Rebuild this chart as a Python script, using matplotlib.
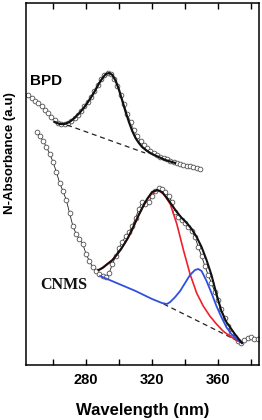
import matplotlib
matplotlib.use("Agg")
import matplotlib.pyplot as plt

# ---- data (y in arbitrary absorbance units) ----
bpd_x = [245, 247, 249, 251, 253, 255, 257, 259, 261, 263, 265, 267, 269, 271, 273,
         275, 277, 279, 281, 283, 285, 287, 289, 291, 293, 295, 297, 299, 301, 303,
         305, 307, 309, 311, 313, 315, 317, 319, 321, 323, 325, 327, 329, 331, 333,
         335, 337, 339, 341, 343, 345, 347, 349]
bpd_y = [2.69, 2.66, 2.63, 2.61, 2.58, 2.54, 2.51, 2.47, 2.44, 2.41, 2.40, 2.40, 2.41,
         2.43, 2.46, 2.49, 2.53, 2.58, 2.62, 2.67, 2.73, 2.79, 2.85, 2.89, 2.91, 2.90,
         2.85, 2.78, 2.69, 2.60, 2.50, 2.42, 2.34, 2.28, 2.23, 2.19, 2.16, 2.13, 2.11,
         2.09, 2.07, 2.06, 2.05, 2.03, 2.02, 2.01, 2.00, 1.99, 1.98, 1.98, 1.97, 1.96, 1.95]

bpd_fit_x = [261, 264, 267, 270, 273, 276, 279, 282, 285, 288, 290, 292, 294, 296, 298,
             300, 302, 304, 306, 308, 310, 312, 314, 317, 320, 324, 328, 332, 334]
bpd_fit_y = [2.42, 2.40, 2.40, 2.42, 2.46, 2.51, 2.57, 2.64, 2.72, 2.81, 2.86, 2.90, 2.91,
             2.89, 2.83, 2.74, 2.63, 2.52, 2.42, 2.33, 2.26, 2.21, 2.17, 2.13, 2.10, 2.07,
             2.04, 2.02, 2.01]

bpd_base_x = [268.5, 315.8]
bpd_base_y = [2.39, 2.11]

cnms_x = [250, 252, 254, 256, 258, 260, 262, 264, 266, 268, 270, 272, 274, 276, 278,
          280, 282, 284, 286, 288, 290, 292, 294, 296, 298, 300, 302, 304, 306, 308,
          310, 312, 314, 316, 318, 320, 322, 324, 326, 328, 330, 332, 334, 336, 338,
          340, 342, 344, 346, 348, 350, 352, 354, 356, 358, 360, 362, 364, 366, 368,
          370, 372, 374, 376, 378, 380, 382, 384]
cnms_y = [2.32, 2.28, 2.23, 2.17, 2.10, 2.02, 1.92, 1.81, 1.73, 1.64, 1.51, 1.38, 1.30,
          1.25, 1.20, 1.10, 1.03, 0.97, 0.93, 0.90, 0.88, 0.87, 0.91, 1.00, 1.08, 1.16,
          1.22, 1.28, 1.32, 1.38, 1.46, 1.55, 1.62, 1.60, 1.62, 1.68, 1.73, 1.76, 1.75,
          1.72, 1.68, 1.62, 1.52, 1.47, 1.44, 1.41, 1.37, 1.33, 1.27, 1.17, 1.08, 0.98,
          0.89, 0.81, 0.72, 0.64, 0.55, 0.46, 0.38, 0.31, 0.27, 0.23, 0.21, 0.24, 0.26,
          0.27, 0.25, 0.25]

cnms_fit_x = [287.5, 290, 293, 296, 299, 302, 305, 308, 311, 314, 317, 320, 323, 326,
              329, 332, 335, 338, 341, 344, 347, 350, 353, 356, 359, 362, 365, 368, 371, 374.5]
cnms_fit_y = [0.94, 0.96, 1.00, 1.04, 1.10, 1.17, 1.25, 1.35, 1.46, 1.56, 1.65, 1.72,
              1.74, 1.72, 1.66, 1.59, 1.52, 1.46, 1.41, 1.35, 1.27, 1.17, 1.04, 0.89,
              0.70, 0.53, 0.42, 0.35, 0.28, 0.21]

peak1_x = [288, 292, 296, 300, 304, 308, 312, 316, 320, 323.5, 327, 331, 335, 339, 343,
           347, 351, 355, 359, 363, 367, 371, 374.5]
peak1_y = [0.94, 0.99, 1.04, 1.12, 1.22, 1.34, 1.49, 1.62, 1.71, 1.74, 1.70, 1.60, 1.40,
           1.14, 0.90, 0.71, 0.58, 0.48, 0.40, 0.33, 0.28, 0.24, 0.21]

peak2_x = [288.5, 300, 310, 320, 326, 329, 331, 334, 337, 340, 343, 346, 348, 350, 353,
           356, 359, 362, 365, 368, 371, 374.5]
peak2_y = [0.88, 0.80, 0.73, 0.65, 0.61, 0.60, 0.62, 0.67, 0.73, 0.81, 0.89, 0.94, 0.95,
           0.93, 0.83, 0.71, 0.58, 0.47, 0.37, 0.30, 0.25, 0.21]

cnms_base_x = [327.0, 374.5]
cnms_base_y = [0.60, 0.21]

major_ticks = [280, 320, 360]
minor_ticks = [260, 300, 340, 380]

# ---- figure ----
fig = plt.figure(figsize=(2.62, 4.20), dpi=100)
ax = fig.add_axes([26 / 262, 1 - 365 / 420, 233 / 262, 362 / 420])

mk = dict(marker='o', markersize=3.4, markerfacecolor='white',
          markeredgecolor='#505050', markeredgewidth=0.6)
ax.plot(bpd_x, bpd_y, color='#333333', lw=0.4, zorder=2, **mk)
ax.plot(cnms_x, cnms_y, color='#222222', lw=0.6, zorder=2, **mk)

ax.plot(bpd_base_x, bpd_base_y, color='#222222', lw=0.9, ls=(0, (4, 3)), zorder=3)
ax.plot(cnms_base_x, cnms_base_y, color='#222222', lw=0.9, ls=(0, (4, 3)), zorder=3)

ax.plot(bpd_fit_x, bpd_fit_y, color='#111111', lw=1.6, zorder=4)
ax.plot(peak1_x, peak1_y, color='#f0202a', lw=1.2, zorder=4)
ax.plot(peak2_x, peak2_y, color='#2f4fe0', lw=1.3, zorder=4)
ax.plot(cnms_fit_x, cnms_fit_y, color='#111111', lw=1.5, zorder=5)

ax.text(246.0, 2.83, 'BPD', fontsize=11, fontweight='bold',
        family='Liberation Sans', ha='left', va='center')
ax.text(252.5, 0.79, 'CNMS', fontsize=11.5, fontweight='bold',
        family='Liberation Serif', ha='left', va='center', color='#111111')

ax.set_xlim(243.6, 384.8)
ax.set_ylim(-0.01, 3.61)
ax.set_xticks(major_ticks)
ax.set_xticks(minor_ticks, minor=True)
ax.set_yticks([])
ax.tick_params(axis='x', which='both', direction='in', top=True, bottom=True,
               length=4, width=1.0, pad=6)
for lab in ax.get_xticklabels():
    lab.set_fontweight('bold')
    lab.set_fontsize(10.5)
    lab.set_family('Liberation Sans')
for s in ax.spines.values():
    s.set_linewidth(1.1)

fig.text(142.5 / 262, 1 - 410 / 420, 'Wavelength (nm)', fontsize=12, fontweight='bold',
         family='Liberation Sans', ha='center', va='center')
fig.text(10 / 262, 1 - 153 / 420, 'N-Absorbance (a.u)', fontsize=9.5, fontweight='bold',
         family='Liberation Sans', ha='center', va='center', rotation=90)

fig.savefig('out.png', dpi=100)
